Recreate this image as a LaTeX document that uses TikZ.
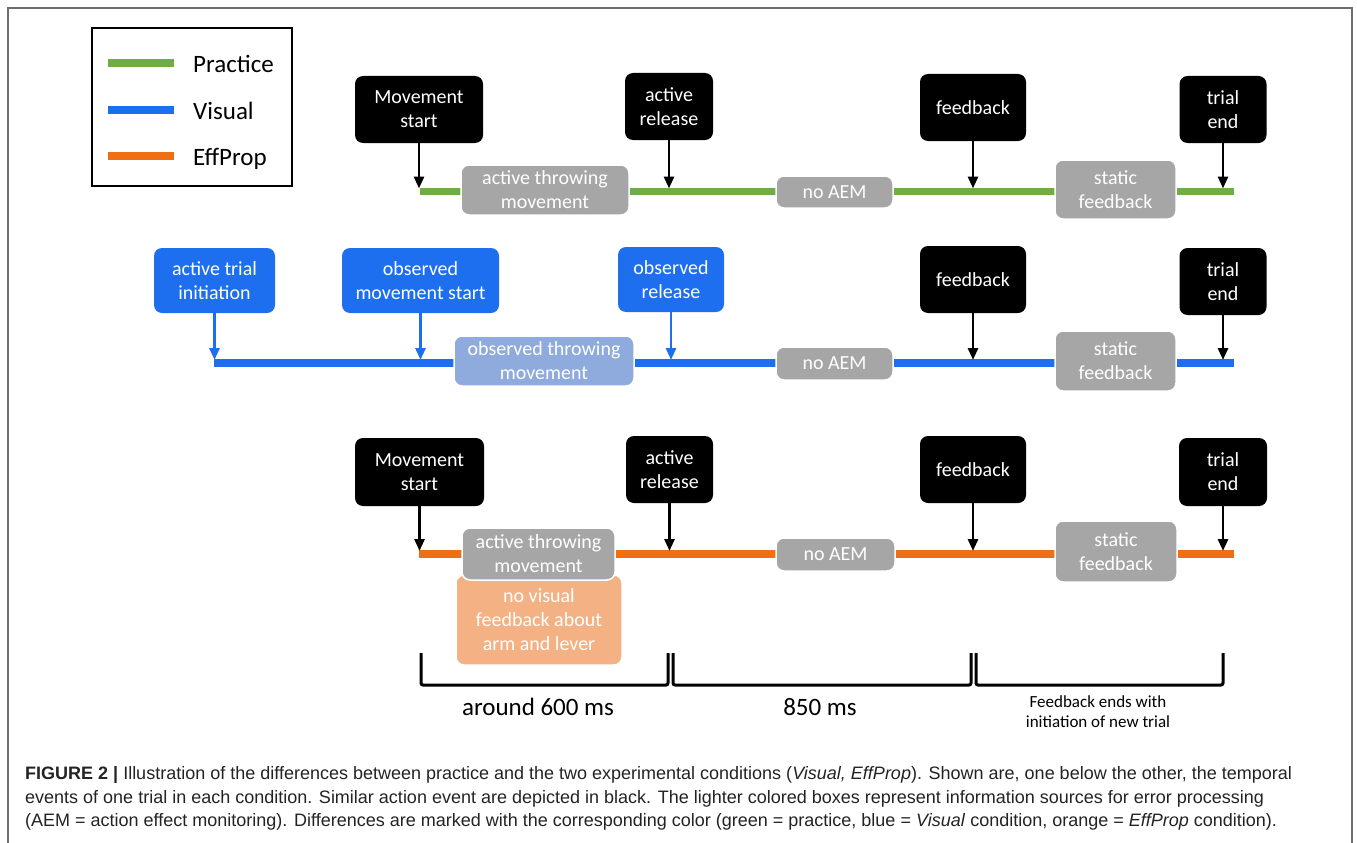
\documentclass[tikz,border=0pt]{standalone}
\usepackage{fontspec}
\setmainfont{Carlito}
\newfontfamily\capfont{Liberation Sans}
\usetikzlibrary{arrows.meta}

\definecolor{practice}{RGB}{112,173,71}
\definecolor{visual}{RGB}{30,110,240}
\definecolor{effprop}{RGB}{240,110,20}
\definecolor{infogray}{RGB}{166,166,166}
\definecolor{infoblue}{RGB}{143,170,220}
\definecolor{infoorange}{RGB}{244,177,131}
\definecolor{framegray}{RGB}{110,110,110}
\definecolor{captext}{RGB}{35,35,35}

\begin{document}
\begin{tikzpicture}[x=1pt, y=-1pt, >={Triangle[length=12pt,width=10pt]},
    event/.style={fill=black, text=white, rounded corners=8pt, align=center, inner sep=0pt, font=\fontsize{20}{24}\selectfont},
    obs/.style={event, fill=visual},
    info/.style={event, fill=infogray, draw=white, line width=1.5pt},
    timeline/.style={line width=7.5pt},
    tick/.style={->, line width=2.8pt, shorten >=3pt},
    brace/.style={line width=3pt, rounded corners=2pt},
    legline/.style={line width=8pt},
    legtext/.style={anchor=base west, inner sep=0pt, font=\fontsize{25}{30}\selectfont},
    span/.style={anchor=base, inner sep=0pt, font=\fontsize{25}{30}\selectfont},
    capline/.style={anchor=base west, inner sep=0pt, text=captext, font=\capfont\fontsize{18}{23.5}\selectfont}]
    \useasboundingbox (0,0) rectangle (1357,843);
    \draw [framegray, line width=1.5pt] (8,843) -- (8,8) -- (1352,8) -- (1352,843);

    % Legend
    \node [draw, line width=1.5pt, minimum width=200pt, minimum height=158pt, inner sep=0pt] (legend) at (192,107) {};
    \node [legtext] (lgP) at (193,73)  {Practice};
    \node [legtext] (lgV) at (193,119) {Visual};
    \node [legtext] (lgE) at (193,165) {EffProp};
    \draw [legline, practice] (108,63)  -- (174,63);
    \draw [legline, visual]   (108,110) -- (174,110);
    \draw [legline, effprop]  (108,156) -- (174,156);

    % Timelines
    \coordinate (s1) at (420,191.5);  \coordinate (e1) at (1234,191.5);
    \coordinate (s2) at (214,363);    \coordinate (e2) at (1234,363);
    \coordinate (s3) at (419,554);    \coordinate (e3) at (1234,554);
    \draw [timeline, practice] (s1) -- (e1);
    \draw [timeline, visual]   (s2) -- (e2);
    \draw [timeline, effprop]  (s3) -- (e3);

    % Nodes, practice
    \node [event, minimum width=128pt, minimum height=67pt] (ms1) at (419,109.5)  {Movement\\start};
    \node [event, minimum width=88pt,  minimum height=67pt] (ar1) at (669,106.5)  {active\\release};
    \node [event, minimum width=106pt, minimum height=67pt] (fb1) at (973,107.5)  {feedback};
    \node [event, minimum width=87pt,  minimum height=67pt] (te1) at (1223,109.5) {trial\\end};
    \node [info,  minimum width=168pt, minimum height=50pt] (at1) at (545,190)    {active throwing\\movement};
    \node [info,  minimum width=117pt, minimum height=32pt] (na1) at (834.5,192)  {no AEM};
    \node [info,  minimum width=121pt, minimum height=59pt] (sf1) at (1115.5,189.5) {static\\feedback};

    % Nodes, visual
    \node [obs,   minimum width=121pt, minimum height=65pt] (ti2) at (214.5,280.5) {active trial\\initiation};
    \node [obs,   minimum width=157pt, minimum height=65pt] (om2) at (420.5,280.5) {observed\\movement start};
    \node [obs,   minimum width=106pt, minimum height=65pt] (or2) at (671,279.5)   {observed\\release};
    \node [event, minimum width=106pt, minimum height=67pt] (fb2) at (973,279.5)   {feedback};
    \node [event, minimum width=87pt,  minimum height=67pt] (te2) at (1223,281.5)  {trial\\end};
    \node [info, fill=infoblue, minimum width=180pt, minimum height=50pt] (ot2) at (544,361) {observed throwing\\movement};
    \node [info,  minimum width=117pt, minimum height=33pt] (na2) at (834.5,363.5) {no AEM};
    \node [info,  minimum width=121pt, minimum height=60pt] (sf2) at (1115.5,361)  {static\\feedback};

    % Nodes, effprop
    \node [event, minimum width=129pt, minimum height=68pt] (ms3) at (419.5,472)  {Movement\\start};
    \node [event, minimum width=87pt,  minimum height=67pt] (ar3) at (669.5,469.5) {active\\release};
    \node [event, minimum width=106pt, minimum height=67pt] (fb3) at (973,469.5)  {feedback};
    \node [event, minimum width=88pt,  minimum height=68pt] (te3) at (1223,472)   {trial\\end};
    \node [info, fill=infoorange, minimum width=166pt, minimum height=90pt] (nv3) at (539,620) {no visual\\feedback about\\arm and lever};
    \node [info,  minimum width=153pt, minimum height=52pt] (at3) at (538.5,554)  {active throwing\\movement};
    \node [info,  minimum width=119pt, minimum height=33pt] (na3) at (835.5,554.5) {no AEM};
    \node [info,  minimum width=122pt, minimum height=61pt] (sf3) at (1116,551.5)  {static\\feedback};

    % Paths
    \foreach \ev in {ms1, ar1, fb1, te1}
        \draw [tick] (\ev) -- (\ev |- s1);
    \foreach \ev in {ti2, om2, or2}
        \draw [tick, visual] (\ev) -- (\ev |- s2);
    \foreach \ev in {fb2, te2}
        \draw [tick] (\ev) -- (\ev |- s2);
    \foreach \ev in {ms3, ar3, fb3, te3}
        \draw [tick] (\ev) -- (\ev |- s3);

    % Durations
    \draw [brace] (421,653) -- (421,685) -- (668,685) -- (668,653);
    \draw [brace] (673,653) -- (673,685) -- (971,685) -- (971,653);
    \draw [brace] (976,653) -- (976,685) -- (1223,685) -- (1223,653);
    \node [span] (d1) at (538,715) {around 600 ms};
    \node [span] (d2) at (820,715) {850 ms};
    \node [span, font=\fontsize{17}{20}\selectfont] (d3) at (1098,707) {Feedback ends with};
    \node [span, font=\fontsize{17}{20}\selectfont] (d4) at (1098,727) {initiation of new trial};

    % Caption
    \node [capline] (cap1) at (25,779) {\textbf{FIGURE 2 |} Illustration of the differences between practice and the two experimental conditions (\textit{Visual, EffProp}). Shown are, one below the other, the temporal};
    \node [capline] (cap2) at (25,803) {events of one trial in each condition. Similar action event are depicted in black. The lighter colored boxes represent information sources for error processing};
    \node [capline] (cap3) at (25,826) {(AEM = action effect monitoring). Differences are marked with the corresponding color (green = practice, blue = \textit{Visual} condition, orange = \textit{EffProp} condition).};
\end{tikzpicture}
\end{document}
